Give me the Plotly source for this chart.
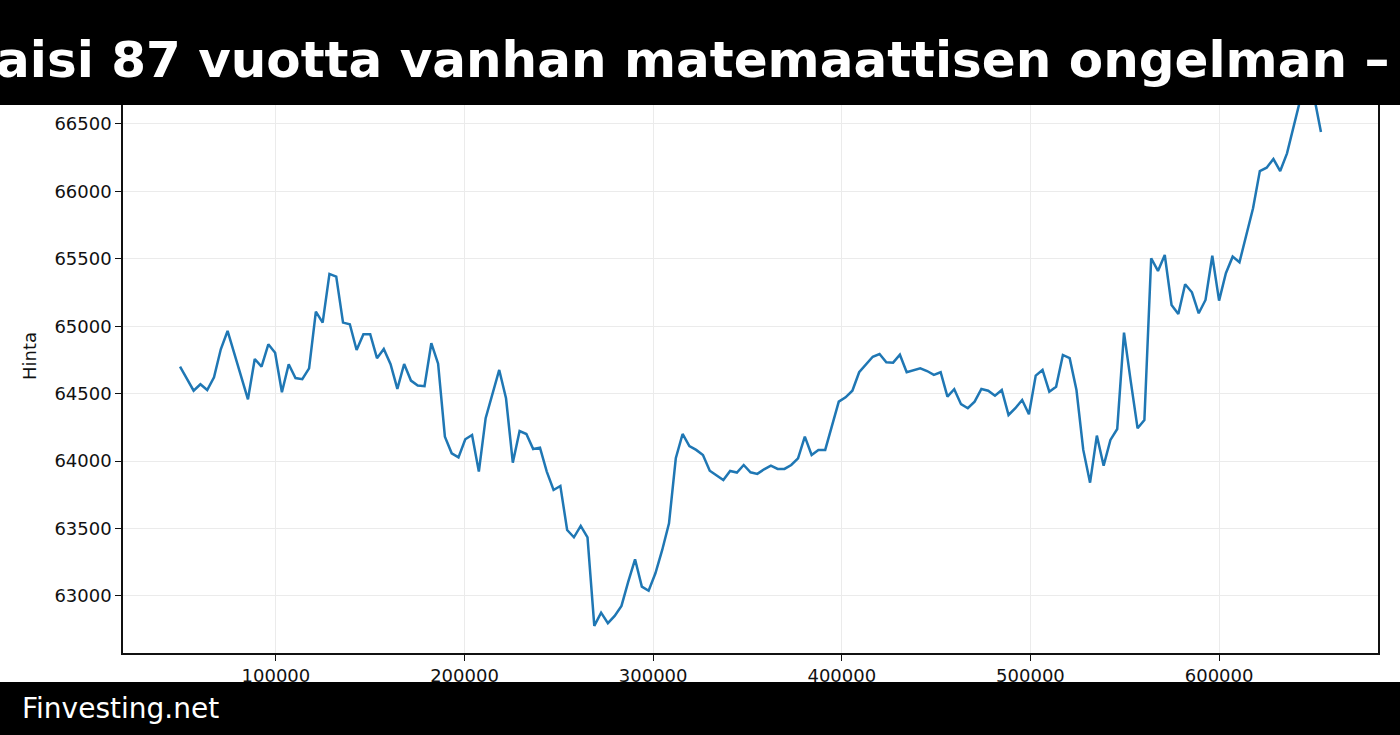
import plotly.graph_objects as go

# ---- data ----
x_start = 49200
x_step = 3600
prices = [
    64700, 64607, 64522, 64570, 64527, 64622, 64829, 64965, 64797, 64629,
    64458, 64757, 64700, 64866, 64804, 64510, 64718, 64616, 64607, 64688,
    65108, 65027, 65388, 65368, 65027, 65015, 64824, 64941, 64941, 64763,
    64831, 64718, 64535, 64720, 64597, 64560, 64555, 64874, 64722, 64181,
    64058, 64028, 64162, 64194, 63922, 64318, 64498, 64676, 64466, 63988,
    64223, 64201, 64090, 64100, 63922, 63786, 63816, 63489, 63435, 63519,
    63435, 62778, 62876, 62798, 62852, 62926, 63106, 63272, 63069, 63039,
    63168, 63341, 63539, 64021, 64201, 64112, 64083, 64045, 63929, 63892,
    63860, 63927, 63915, 63971, 63917, 63905, 63939, 63966, 63942, 63942,
    63971, 64021, 64181, 64045, 64083, 64083, 64256, 64441, 64473, 64522,
    64659, 64713, 64774, 64794, 64733, 64730, 64789, 64659, 64676, 64688,
    64668, 64639, 64659, 64478, 64533, 64422, 64392, 64441, 64535, 64522,
    64485, 64527, 64342, 64392, 64453, 64347, 64634, 64676, 64515, 64552,
    64787, 64763, 64527, 64083, 63840, 64189, 63966, 64157, 64238, 64953,
    64589, 64243, 64305, 65504, 65410, 65528, 65158, 65091, 65311, 65252,
    65096, 65195, 65523, 65190, 65393, 65516, 65474, 65672, 65875, 66151,
    66176, 66240, 66151, 66282, 66480, 66690, 66800, 66700, 66440,
]
x_values = [x_start + i * x_step for i in range(len(prices))]

y_ticks = [63000, 63500, 64000, 64500, 65000, 65500, 66000, 66500]
x_ticks = [100000, 200000, 300000, 400000, 500000, 600000]

title_text = "aisi 87 vuotta vanhan matemaattisen ongelman –"
footer_text = "Finvesting.net"
y_label = "Hinta"

# ---- figure ----
W, H = 1400, 735
ML, MR, MT, MB = 123, 22, 51, 82
plot_h = H - MT - MB
plot_w = W - ML - MR


def py(p):
    """pixel row -> paper y"""
    return (H - MB - p) / plot_h


def px(p):
    """pixel column -> paper x"""
    return (p - ML) / plot_w


fig = go.Figure()
fig.add_trace(go.Scatter(
    x=x_values, y=prices, mode="lines",
    line=dict(color="#1f77b4", width=2.5),
    showlegend=False, hoverinfo="skip",
))

axis_common = dict(
    showline=True, linecolor="#111", linewidth=1.5, mirror=True,
    ticks="outside", ticklen=6, tickwidth=1.2, tickcolor="#111",
    showgrid=True, gridcolor="#ebebeb", gridwidth=1,
    zeroline=False,
    tickfont=dict(family="DejaVu Sans", size=18, color="#111"),
)

fig.update_xaxes(range=[18960, 684240], tickvals=x_ticks,
                 ticktext=[str(v) for v in x_ticks], **axis_common)
fig.update_yaxes(range=[62577, 67041], tickvals=y_ticks,
                 ticktext=[str(v) for v in y_ticks], **axis_common)

shapes = [
    dict(type="rect", xref="paper", yref="paper",
         x0=-0.2, x1=1.2, y0=py(105), y1=1.3,
         fillcolor="black", line=dict(width=0), layer="above"),
    dict(type="rect", xref="paper", yref="paper",
         x0=-0.2, x1=1.2, y0=-0.4, y1=py(682),
         fillcolor="black", line=dict(width=0), layer="above"),
]

annotations = [
    dict(text=f"<b>{title_text}</b>", xref="paper", yref="paper",
         x=px(692), y=py(60), xanchor="center", yanchor="middle",
         showarrow=False,
         font=dict(family="DejaVu Sans", size=50, color="white")),
    dict(text=footer_text, xref="paper", yref="paper",
         x=px(20), y=py(708), xanchor="left", yanchor="middle",
         showarrow=False,
         font=dict(family="DejaVu Sans", size=28, color="white")),
    dict(text=y_label, xref="paper", yref="paper",
         x=px(29), y=py(356), xanchor="center", yanchor="middle",
         textangle=-90, showarrow=False,
         font=dict(family="DejaVu Sans", size=18, color="#111")),
]

fig.update_layout(
    width=W, height=H,
    margin=dict(l=ML, r=MR, t=MT, b=MB, pad=0),
    paper_bgcolor="white", plot_bgcolor="white",
    shapes=shapes, annotations=annotations,
    showlegend=False,
)

fig.write_html("out.html")
